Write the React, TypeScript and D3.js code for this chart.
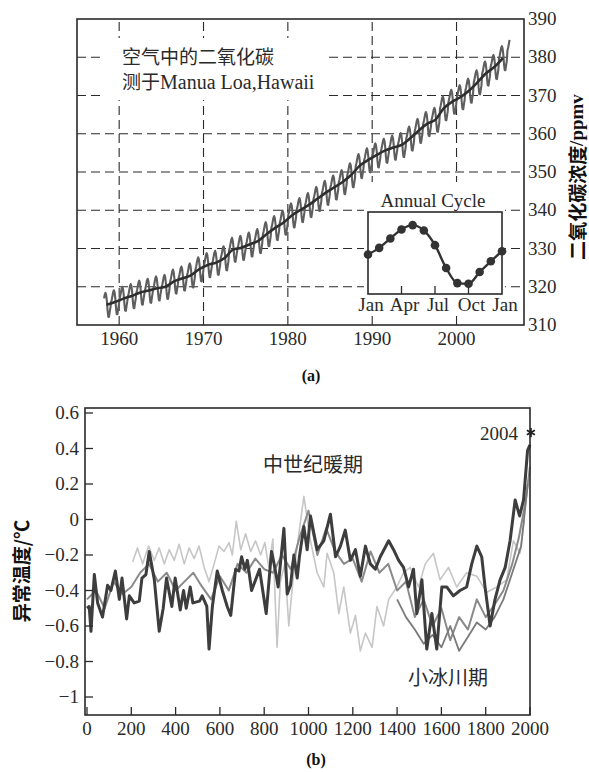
import React from 'react';
import * as d3 from 'd3';

// ---------- Chart (a): CO2 at Mauna Loa ----------
const co2Years = [1958,1959,1960,1961,1962,1963,1964,1965,1966,1967,1968,1969,1970,1971,1972,1973,1974,1975,1976,1977,1978,1979,1980,1981,1982,1983,1984,1985,1986,1987,1988,1989,1990,1991,1992,1993,1994,1995,1996,1997,1998,1999,2000,2001,2002,2003,2004,2005,2006];
const co2Annual = [315.3,316.0,316.9,317.6,318.5,319.0,319.6,320.0,321.4,322.2,323.0,324.6,325.7,326.3,327.5,329.7,330.2,331.1,332.0,333.8,335.4,336.8,338.7,340.1,341.4,343.0,344.6,346.0,347.4,349.2,351.6,353.1,354.4,355.6,356.4,357.1,358.8,360.8,362.6,363.7,366.7,368.4,369.6,371.3,373.5,375.8,377.5,379.8,381.9];
const firstMonth = 2; // March 1958
const lastMonth = 3;  // April 2006
const cycleLabels = ['Jan','Feb','Mar','Apr','May','Jun','Jul','Aug','Sep','Oct','Nov','Dec','Jan'];
const cycleValues = [-0.07,0.65,1.65,2.63,3.09,2.52,0.94,-1.51,-3.13,-3.20,-1.94,-0.79,0.29];
const cycleTickLabels = ['Jan','Apr','Jul','Oct','Jan'];
const cycleTickIdx = [0,3,6,9,12];
const co2XTicks = [1960,1970,1980,1990,2000];
const co2YTicks = [310,320,330,340,350,360,370,380,390];
const co2Grid = [320,330,340,350,360,370,380];

// ---------- Chart (b): temperature anomaly reconstructions ----------
const darkSeries: [number, number][] = [[0,-0.5],[10,-0.49],[18,-0.63],[33,-0.31],[48,-0.47],[70,-0.55],[93,-0.37],[108,-0.40],[128,-0.29],[146,-0.45],[158,-0.33],[179,-0.56],[191,-0.43],[213,-0.47],[236,-0.46],[248,-0.33],[266,-0.31],[281,-0.18],[304,-0.34],[326,-0.63],[344,-0.50],[359,-0.33],[383,-0.49],[398,-0.33],[421,-0.51],[436,-0.40],[448,-0.50],[466,-0.38],[478,-0.47],[508,-0.46],[520,-0.43],[541,-0.49],[551,-0.73],[566,-0.49],[588,-0.29],[611,-0.40],[633,-0.49],[649,-0.54],[671,-0.28],[686,-0.29],[698,-0.21],[713,-0.28],[724,-0.23],[743,-0.40],[761,-0.34],[779,-0.28],[791,-0.38],[809,-0.53],[833,-0.18],[848,-0.27],[863,-0.38],[889,-0.05],[904,-0.42],[919,-0.37],[934,-0.20],[949,-0.33],[959,-0.21],[979,-0.04],[994,-0.17],[1009,0.02],[1039,-0.17],[1069,-0.12],[1099,0.03],[1122,-0.21],[1144,-0.15],[1166,-0.06],[1189,-0.23],[1212,-0.17],[1234,-0.32],[1257,-0.15],[1279,-0.25],[1302,-0.28],[1324,-0.21],[1362,-0.12],[1384,-0.17],[1407,-0.23],[1429,-0.27],[1452,-0.38],[1474,-0.28],[1489,-0.53],[1512,-0.34],[1534,-0.73],[1557,-0.53],[1579,-0.73],[1602,-0.38],[1624,-0.38],[1654,-0.43],[1684,-0.40],[1714,-0.38],[1737,-0.25],[1760,-0.15],[1782,-0.21],[1797,-0.38],[1820,-0.60],[1842,-0.45],[1865,-0.34],[1888,-0.27],[1910,-0.12],[1933,0.11],[1953,0.02],[1971,0.11],[1989,0.39],[2000,0.42]];
const lightSeries: [number, number][] = [[206,-0.24],[228,-0.16],[251,-0.25],[278,-0.15],[304,-0.23],[326,-0.16],[349,-0.25],[371,-0.17],[394,-0.23],[416,-0.14],[439,-0.25],[461,-0.16],[484,-0.22],[506,-0.15],[529,-0.27],[551,-0.35],[574,-0.25],[596,-0.15],[619,-0.18],[641,-0.13],[656,-0.20],[674,-0.01],[694,-0.17],[716,-0.08],[739,-0.18],[761,-0.12],[784,-0.20],[803,-0.13],[821,-0.27],[839,-0.11],[858,-0.72],[873,-0.35],[893,-0.25],[911,-0.60],[929,-0.35],[949,-0.15],[979,0.13],[1009,-0.12],[1039,-0.30],[1069,-0.38],[1084,-0.19],[1114,-0.30],[1137,-0.53],[1159,-0.38],[1189,-0.64],[1212,-0.54],[1234,-0.74],[1257,-0.64],[1287,-0.72],[1309,-0.49],[1339,-0.60],[1362,-0.45],[1399,-0.38],[1429,-0.30],[1459,-0.27],[1497,-0.38],[1527,-0.25],[1564,-0.19],[1594,-0.34],[1632,-0.27],[1669,-0.38],[1714,-0.30],[1760,-0.32],[1805,-0.41],[1850,-0.38],[1895,-0.34],[1925,-0.12],[1955,-0.19],[1975,0.0]];
const mediumSeries: [number, number][] = [[0,-0.45],[40,-0.40],[80,-0.50],[120,-0.35],[160,-0.42],[200,-0.38],[240,-0.30],[280,-0.25],[320,-0.35],[360,-0.30],[400,-0.40],[440,-0.35],[480,-0.30],[520,-0.38],[560,-0.45],[600,-0.32],[640,-0.40],[680,-0.25],[720,-0.30],[760,-0.22],[800,-0.28],[840,-0.30],[880,-0.20],[920,-0.28],[960,-0.10],[1000,0.05],[1040,-0.20],[1080,-0.05],[1120,-0.18],[1160,-0.25],[1200,-0.22],[1240,-0.35],[1280,-0.18],[1320,-0.30],[1360,-0.25],[1400,-0.40],[1440,-0.35],[1480,-0.55],[1520,-0.45],[1560,-0.60],[1600,-0.50],[1640,-0.68],[1680,-0.55],[1720,-0.62],[1760,-0.45],[1800,-0.55],[1840,-0.48],[1880,-0.40],[1920,-0.25],[1950,-0.10],[1980,0.10],[2000,0.30]];
const liaSeries: [number, number][] = [[1400,-0.45],[1440,-0.55],[1480,-0.62],[1520,-0.70],[1560,-0.65],[1600,-0.72],[1640,-0.60],[1680,-0.74],[1720,-0.66],[1760,-0.58],[1800,-0.62],[1840,-0.55],[1880,-0.45],[1920,-0.30],[1960,-0.15],[1990,0.20]];
const tempXTicks = [0,200,400,600,800,1000,1200,1400,1600,1800,2000];
const tempYTicks = [-1,-0.8,-0.6,-0.4,-0.2,0,0.2,0.4,0.6];
const star2004: [number, number] = [2004, 0.49];

const SERIF = '"Liberation Serif", "DejaVu Serif", serif';
const CJK = '"Noto Sans CJK SC", sans-serif';
const INK = '#2a2a2a';

function fmtTemp(v: number) {
  const r = Math.round(v * 10) / 10;
  if (r === 0) return '0';
  const s = Math.abs(r).toString();
  return (r < 0 ? '\u2212' : '') + s;
}

export default function App() {
  // ---- scales (a)
  const xA = d3.scaleLinear().domain([1955, 2008]).range([77, 524]);
  const yA = d3.scaleLinear().domain([310, 390]).range([325, 19]);
  const monthly: [number, number][] = [];
  co2Years.forEach((yr, i) => {
    for (let m = 0; m < 12; m++) {
      if (i === 0 && m < firstMonth) continue;
      if (i === co2Years.length - 1 && m > lastMonth) continue;
      monthly.push([yr + (m + 0.5) / 12, co2Annual[i] + cycleValues[m]]);
    }
  });
  const lineA = d3.line<[number, number]>().x(d => xA(d[0])).y(d => yA(d[1]));
  const trend: [number, number][] = co2Years.slice(0, -1).map((yr, i) => [yr + 0.5, co2Annual[i]]);
  const trendLine = d3.line<[number, number]>().x(d => xA(d[0])).y(d => yA(d[1])).curve(d3.curveMonotoneX);

  // inset
  const ix = d3.scaleLinear().domain([0, 12]).range([368, 502]);
  const iy = d3.scaleLinear().domain([-4.3, 4.5]).range([294, 212]);
  const cyc = cycleValues.map((v, i) => [i, v] as [number, number]);
  const lineI = d3.line<[number, number]>().x(d => ix(d[0])).y(d => iy(d[1])).curve(d3.curveMonotoneX);

  // ---- scales (b)
  const xB = d3.scaleLinear().domain([0, 2000]).range([87, 530]);
  const yB = d3.scaleLinear().domain([-1, 0.6]).range([697, 413]);
  const lineB = d3.line<[number, number]>().x(d => xB(d[0])).y(d => yB(d[1]));
  const bTop = 408, bBottom = 715, bLeft = 85, bRight = 530;

  const starPath = d3.symbol().type(d3.symbolAsterisk).size(60)() as string;

  return (
    <svg width={589} height={772} style={{ position: 'absolute', left: 0, top: 0, background: '#fff' }}>
      {/* ================= (a) ================= */}
      <g>
        {co2Grid.map(v => (
          <line key={'h' + v} x1={77} x2={524} y1={yA(v)} y2={yA(v)} stroke={INK} strokeWidth={1.1} strokeDasharray="9,5" />
        ))}
        {co2XTicks.map(t => (
          <line key={'v' + t} x1={xA(t)} x2={xA(t)} y1={325} y2={19} stroke={INK} strokeWidth={1.1} strokeDasharray="9,5" />
        ))}
        {/* white covers */}
        <rect x={105} y={38} width={222} height={62} fill="#fff" />
        <rect x={364} y={182} width={141} height={134} fill="#fff" />
        <rect x={77} y={19} width={447} height={306} fill="none" stroke={INK} strokeWidth={1.6} />

        <path d={lineA(monthly) as string} fill="none" stroke="#5e5e5e" strokeWidth={2.1} strokeLinejoin="round" />
        <path d={trendLine(trend) as string} fill="none" stroke="#2e2e2e" strokeWidth={2.6} />

        {co2XTicks.map(t => (
          <text key={'xl' + t} x={xA(t)} y={345} textAnchor="middle" fontFamily={SERIF} fontSize={19} fill={INK}>{t}</text>
        ))}
        {co2YTicks.map(v => (
          <text key={'yl' + v} x={528} y={yA(v) + 6} textAnchor="start" fontFamily={SERIF} fontSize={19} fill={INK}>{v}</text>
        ))}
        <text transform="translate(576,177) rotate(-90)" textAnchor="middle" dominantBaseline="central" fontSize={19} fill="#111" fontWeight="bold">
          <tspan fontFamily={CJK}>二氧化碳浓度</tspan>
          <tspan fontFamily={SERIF}>/ppmv</tspan>
        </text>
        <text x={122} y={64} fontFamily={CJK} fontSize={19} fill={INK}>空气中的二氧化碳</text>
        <text x={122} y={89} fontSize={19} fill={INK}>
          <tspan fontFamily={CJK}>测于</tspan>
          <tspan fontFamily={SERIF} fontSize={20}>Manua Loa,Hawaii</tspan>
        </text>

        {/* inset */}
        <text x={433} y={207} textAnchor="middle" fontFamily={SERIF} fontSize={19} fill={INK}>Annual Cycle</text>
        <rect x={368} y={212} width={134} height={82} fill="#fff" stroke={INK} strokeWidth={1.6} />
        {cycleTickIdx.slice(1, -1).map(i => (
          <line key={'it' + i} x1={ix(i)} x2={ix(i)} y1={294} y2={286} stroke={INK} strokeWidth={1.3} />
        ))}
        <path d={lineI(cyc) as string} fill="none" stroke="#333" strokeWidth={2.4} />
        {cyc.map(d => (
          <circle key={'c' + d[0]} cx={ix(d[0])} cy={iy(d[1])} r={4.3} fill="#333" />
        ))}
        {cycleTickIdx.map((i, k) => (
          <text key={'il' + k} x={ix(i) + 3} y={311} textAnchor="middle" fontFamily={SERIF} fontSize={19} fill={INK}>{cycleTickLabels[k]}</text>
        ))}

        <text x={311} y={381} textAnchor="middle" fontFamily={SERIF} fontWeight="bold" fontSize={16} fill="#111">(a)</text>
      </g>

      {/* ================= (b) ================= */}
      <g>
        <path d={lineB(lightSeries) as string} fill="none" stroke="#c6c6c6" strokeWidth={1.6} strokeLinejoin="round" />
        <path d={lineB(mediumSeries) as string} fill="none" stroke="#8a8a8a" strokeWidth={2} strokeLinejoin="round" />
        <path d={lineB(liaSeries) as string} fill="none" stroke="#7a7a7a" strokeWidth={1.8} strokeLinejoin="round" />
        <path d={lineB(darkSeries) as string} fill="none" stroke="#3d3d3d" strokeWidth={3} strokeLinejoin="round" />

        <rect x={bLeft} y={bTop} width={bRight - bLeft} height={bBottom - bTop} fill="none" stroke={INK} strokeWidth={1.6} />
        {tempYTicks.map(v => (
          <g key={'ty' + v}>
            <line x1={bLeft} x2={bLeft + 8} y1={yB(v)} y2={yB(v)} stroke={INK} strokeWidth={1.3} />
            <text x={79} y={yB(v) + 6} textAnchor="end" fontFamily={SERIF} fontSize={19} fill={INK}>{fmtTemp(v)}</text>
          </g>
        ))}
        {tempXTicks.map(t => (
          <g key={'tx' + t}>
            <line x1={xB(t)} x2={xB(t)} y1={bBottom} y2={bBottom - 8} stroke={INK} strokeWidth={1.3} />
            <text x={xB(t)} y={735} textAnchor="middle" fontFamily={SERIF} fontSize={19} fill={INK}>{t}</text>
          </g>
        ))}
        <text transform="translate(20,571) rotate(-90)" textAnchor="middle" dominantBaseline="central" fontFamily={CJK} fontWeight="bold" fontSize={19} fill="#111">异常温度/℃</text>

        <text x={263} y={472} fontFamily={CJK} fontSize={20} fill={INK}>中世纪暖期</text>
        <text x={408} y={685} fontFamily={CJK} fontSize={20} fill={INK}>小冰川期</text>
        <text x={518} y={440} textAnchor="end" fontFamily={SERIF} fontSize={19} fill={INK}>2004</text>
        <path d={starPath} transform={`translate(${xB(star2004[0])},${yB(star2004[1])})`} fill="none" stroke="#222" strokeWidth={1.8} />

        <text x={316} y={765} textAnchor="middle" fontFamily={SERIF} fontWeight="bold" fontSize={16} fill="#111">(b)</text>
      </g>
    </svg>
  );
}
